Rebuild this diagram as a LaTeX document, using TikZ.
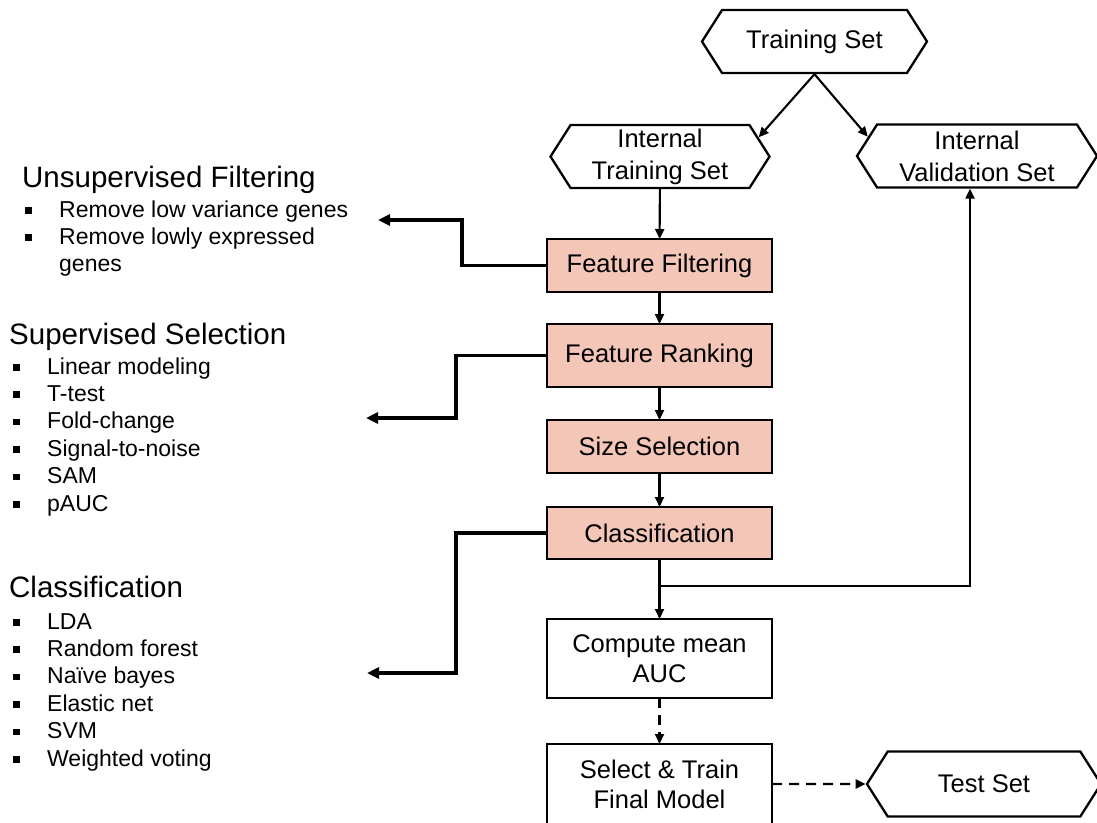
\documentclass[tikz,border=0pt]{standalone}
\usepackage{fontspec}
\setmainfont{Liberation Sans}
\usepackage{xcolor}
\usetikzlibrary{arrows.meta,positioning,shapes.symbols}

\definecolor{stepfill}{RGB}{243,198,183}
\newcommand{\blt}{\makebox[34pt][l]{\rule[3.5pt]{6.5pt}{6.5pt}}}

\begin{document}
\begin{tikzpicture}[
    x=1pt, y=-1pt,
    box/.style={rectangle, draw, line width=2.3pt, outer sep=0pt, minimum width=225pt, inner sep=0pt, font=\fontsize{25.5}{30}\selectfont, align=center},
    hexbox/.style={signal, signal to=west and east, signal pointer angle=115, draw, line width=2.3pt, minimum height=63pt, inner sep=0pt, font=\fontsize{25.5}{32}\selectfont, align=center},
    arrow/.style={-{Triangle[length=10pt,width=9pt]}, line width=2.1pt},
    sidearrow/.style={-{Triangle[length=12pt,width=11pt]}, line width=3.6pt},
    head/.style={anchor=base west, inner sep=0pt, font=\fontsize{29.5}{32}\selectfont},
    item/.style={anchor=base west, inner sep=0pt, font=\fontsize{23}{27.4}\selectfont}
]
    \useasboundingbox (0,0) rectangle (1097,822);

    % Data sets
    \node[hexbox, minimum width=225pt] (train) at (814.5,41.5) {Training Set};
    \node[hexbox, minimum width=219pt] (intrain) at (660,156.5) {Internal\\Training Set};
    \node[hexbox, minimum width=240pt] (inval) at (977,156) {Internal\\Validation Set};

    % Pipeline
    \node[box, fill=stepfill, minimum height=53pt] (filt) at (659.5,265.5) {Feature Filtering};
    \node[box, fill=stepfill, minimum height=63pt, below=32pt of filt] (rank) {Feature Ranking};
    \node[box, fill=stepfill, minimum height=53pt, below=33pt of rank] (size) {Size Selection};
    \node[box, fill=stepfill, minimum height=52pt, below=34pt of size] (cls) {Classification};
    \node[box, minimum height=79pt, below=60pt of cls] (mean) {Compute mean\\AUC};
    \node[box, minimum height=80pt, below=46pt of mean] (final) {Select \& Train\\Final Model};
    \node[hexbox, minimum width=234pt, minimum height=65pt] (test) at (984,784) {Test Set};

    % Method lists
    \node[head] (unsuphead) at (22,187) {Unsupervised Filtering};
    \node[item] (unsup1) at (25,217) {\blt Remove low variance genes};
    \node[item] (unsup2) at (25,244.4) {\blt Remove lowly expressed};
    \node[item] (unsup3) at (59,271.8) {genes};

    \node[head] (suphead) at (9,344) {Supervised Selection};
    \foreach \t [count=\i] in {Linear modeling, T-test, Fold-change, Signal-to-noise, SAM, pAUC}
        \node[item] (sup\i) at (13,{374+27.4*(\i-1)}) {\blt\t};

    \node[head] (clshead) at (9,597) {Classification};
    \foreach \t [count=\i] in {LDA, Random forest, Naïve bayes, Elastic net, SVM, Weighted voting}
        \node[item] (cls\i) at (13,{629+27.4*(\i-1)}) {\blt\t};

    % Arrow ends
    \coordinate (unsupend) at (378,220);
    \coordinate (supend) at (366,418);
    \coordinate (clsend) at (367,673);
    \coordinate (jn) at (660,586);

    % Arrows
    \draw[arrow] (train.south) -- (intrain.11);
    \draw[arrow] (train.south) -- (inval.170);
    \draw[arrow] (intrain) -- (filt);
    \draw[arrow] (filt) -- (rank);
    \draw[arrow] (rank) -- (size);
    \draw[arrow] (size) -- (cls);
    \draw[arrow] (cls) -- (mean);
    \draw[arrow] (jn) -| ([xshift=-7pt]inval.south);
    \draw[arrow, dash pattern=on 10pt off 7pt] (mean) -- (final);
    \draw[arrow, dash pattern=on 10pt off 7pt] (final) -- (test);

    \draw[sidearrow] (filt.west) -- ++(-85,0) |- (unsupend);
    \draw[sidearrow] (rank.west) -- ++(-91,0) |- (supend);
    \draw[sidearrow] (cls.west) -- ++(-91,0) |- (clsend);
\end{tikzpicture}
\end{document}
